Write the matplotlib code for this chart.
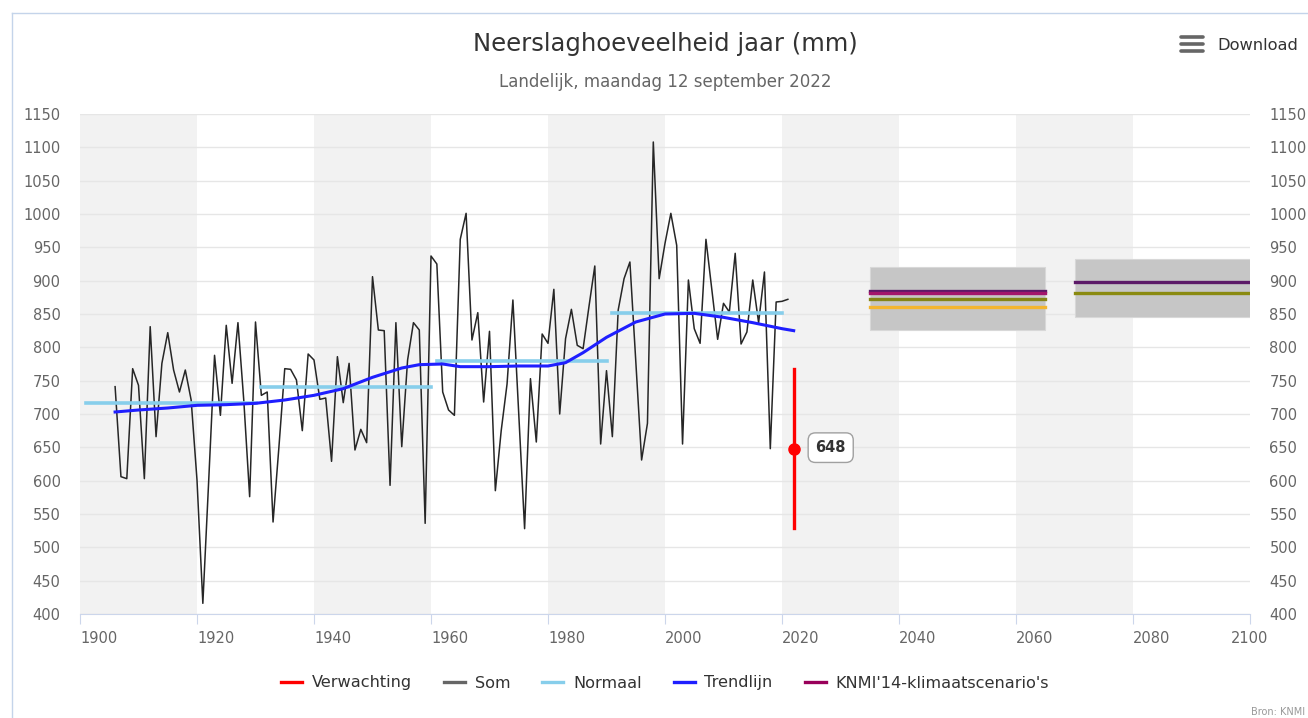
import numpy as np
import matplotlib
matplotlib.use("Agg")
import matplotlib.pyplot as plt
from matplotlib.lines import Line2D
from matplotlib.patches import Rectangle
import matplotlib.transforms as mtransforms

# jaarsom neerslag, landelijk (mm), 1906-2021
years = list(range(1906, 2022))
som = [
    741, 606, 603, 768,                                  # 1906-1909
    743, 603, 831, 666, 776, 822, 766, 733, 766, 721,    # 1910s
    601, 416, 600, 788, 698, 833, 746, 837, 720, 576,    # 1920s
    838, 728, 733, 538, 650, 768, 767, 751, 675, 790,    # 1930s
    781, 722, 724, 629, 786, 717, 776, 646, 677, 657,    # 1940s
    906, 826, 825, 593, 837, 651, 781, 837, 826, 536,    # 1950s
    937, 925, 733, 706, 698, 962, 1001, 811, 852, 718,   # 1960s
    824, 585, 675, 745, 871, 700, 528, 753, 658, 820,    # 1970s
    806, 887, 700, 813, 857, 803, 798, 861, 922, 655,    # 1980s
    765, 666, 856, 903, 928, 780, 631, 686, 1108, 903,   # 1990s
    956, 1001, 953, 655, 901, 828, 806, 962, 887, 812,   # 2000s
    866, 853, 941, 805, 823, 901, 837, 913, 648, 868,    # 2010s
    869, 872,                                            # 2020-2021
]
assert len(som) == len(years)

# normalen (30-jaars gemiddelden)
normal_start = [1901, 1931, 1961, 1991]
normal_end = [1930, 1960, 1990, 2020]
normal_val = [716, 740, 779, 851]

# trendlijn
trend_years = [1906, 1910, 1915, 1920, 1925, 1930, 1935, 1940, 1945, 1950, 1955,
               1958, 1962, 1965, 1970, 1975, 1980, 1983, 1986, 1990, 1995, 2000,
               2005, 2010, 2015, 2020, 2022]
trend_val = [703, 706, 709, 713, 714, 716, 721, 728, 738, 755, 769,
             774, 775, 771, 771, 772, 772, 777, 792, 815, 838, 850,
             851, 845, 837, 828, 825]

# verwachting 2022
fc_year = 2022
fc_val = 648
fc_low = 529
fc_high = 768

# KNMI'14 klimaatscenario's
scen_start = [2035, 2070]
scen_end = [2065, 2100]
scen_low = [826, 846]
scen_high = [921, 933]
scen_lines = [
    [(885, '#5C1A68'), (882, '#A3156B'), (873, '#858516'), (861, '#F3B52F')],
    [(898, '#5C1A68'), (882, '#8A8A10')],
]

xticks = list(range(1900, 2101, 20))
yticks = list(range(400, 1151, 50))

W, H = 1308, 718
fig = plt.figure(figsize=(W / 100, H / 100), dpi=100)
ax = fig.add_axes([80 / W, 1 - 614 / H, 1170 / W, 500 / H])

# afwisselende achtergrondbanden
for x0 in xticks[:-1:2]:
    ax.axvspan(x0, x0 + 20, color='#F2F2F2', lw=0, zorder=0)

ax.set_xlim(1900, 2100)
ax.set_ylim(400, 1150)
ax.set_yticks(yticks)
ax.set_xticks(xticks)
ax.set_axisbelow(True)
ax.yaxis.grid(True, color='#E6E6E6', lw=1)

for s in ['top', 'left', 'right']:
    ax.spines[s].set_visible(False)
ax.spines['bottom'].set_color('#CCD6EB')
ax.tick_params(axis='x', length=7, color='#CCD6EB', labelcolor='#666666',
               labelsize=10.5, pad=5)
ax.tick_params(axis='y', length=0, labelcolor='#666666', labelsize=10.5, pad=14,
               labelright=True, right=False)

# x-labels iets naar rechts verschoven
shift = mtransforms.ScaledTranslation(19 / 100, 0, fig.dpi_scale_trans)
for lab in ax.get_xticklabels()[:-1]:
    lab.set_transform(lab.get_transform() + shift)

# scenario's
for i in range(len(scen_start)):
    ax.add_patch(Rectangle((scen_start[i], scen_low[i]), scen_end[i] - scen_start[i],
                           scen_high[i] - scen_low[i], fc='#C6C6C6', ec='#D8D8D8',
                           lw=0.8, zorder=2))
    for val, col in scen_lines[i]:
        ax.plot([scen_start[i], scen_end[i]], [val, val], color=col, lw=2.4, zorder=3)

# som
ax.plot(years, som, color='#262626', lw=1.1, zorder=4)

# normalen
for a, b, v in zip(normal_start, normal_end, normal_val):
    ax.plot([a, b], [v, v], color='#87CEEB', lw=2.6, zorder=5)

# trendlijn
ax.plot(trend_years, trend_val, color='#1F1FFF', lw=2.2, zorder=6)

# verwachting
ax.plot([fc_year, fc_year], [fc_low, fc_high], color='#FF0000', lw=2.4, zorder=7)
ax.plot([fc_year], [fc_val], 'o', color='#FF0000', ms=8, zorder=8)
ax.annotate(str(fc_val), xy=(fc_year, fc_val), xytext=(37, 1), textcoords='offset pixels',
            ha='center', va='center', fontsize=10.5, fontweight='bold', color='#333333',
            bbox=dict(boxstyle='round,pad=0.5,rounding_size=0.5', fc='white',
                      ec='#A0A0A0', lw=1), zorder=9)

# titels
cx = 665 / W
fig.text(cx, 1 - 44 / H, 'Neerslaghoeveelheid jaar (mm)', ha='center', va='center',
         fontsize=17.5, color='#333333')
fig.text(cx, 1 - 82 / H, 'Landelijk, maandag 12 september 2022', ha='center',
         va='center', fontsize=12, color='#666666')

# download-knop
for yy in [37, 44, 51]:
    fig.add_artist(Line2D([1181 / W, 1203 / W], [1 - yy / H, 1 - yy / H],
                          color='#666666', lw=2.6, solid_capstyle='round'))
fig.text(1217 / W, 1 - 45 / H, 'Download', ha='left', va='center', fontsize=11.7,
         color='#333333')

fig.text(1305 / W, 1 - 712 / H, 'Bron: KNMI', ha='right', va='center', fontsize=7,
         color='#999999')

# kader
fig.add_artist(Line2D([12 / W, 12 / W], [0, 1 - 13 / H], color='#C4D4EA', lw=1))
fig.add_artist(Line2D([12 / W, 1], [1 - 13 / H, 1 - 13 / H], color='#C4D4EA', lw=1))

# legenda
handles = [
    Line2D([], [], color='#FF0000', lw=2.4),
    Line2D([], [], color='#666666', lw=2.4),
    Line2D([], [], color='#87CEEB', lw=2.4),
    Line2D([], [], color='#1F1FFF', lw=2.4),
    Line2D([], [], color='#99005A', lw=2.4),
]
labels = ['Verwachting', 'Som', 'Normaal', 'Trendlijn', "KNMI'14-klimaatscenario's"]
leg = fig.legend(handles, labels, loc='center', bbox_to_anchor=(cx, 1 - 683 / H),
                 ncol=5, frameon=False, fontsize=11.6, handlelength=1.3,
                 handletextpad=0.6, columnspacing=2.0)
for t in leg.get_texts():
    t.set_color('#333333')

fig.savefig('out.png', dpi=100)
